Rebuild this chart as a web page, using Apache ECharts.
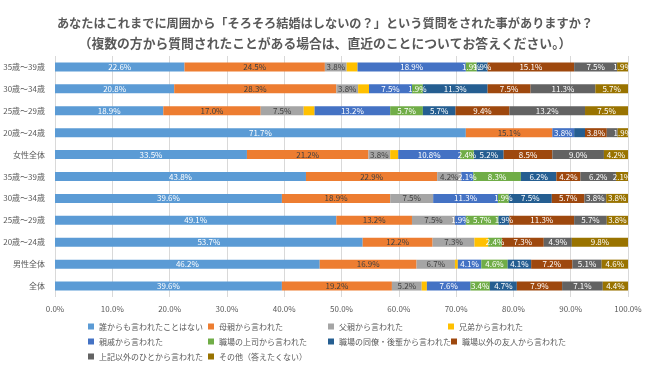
<!DOCTYPE html>
<html><head><meta charset="utf-8">
<script src="https://cdn.jsdelivr.net/npm/echarts@6/dist/echarts.min.js"></script>
<style>html,body{margin:0;padding:0;background:#fff}#c{width:650px;height:367px}</style>
</head><body><div id="c"></div>
<script>
const categories = ['35歳～39歳','30歳～34歳','25歳～29歳','20歳～24歳','女性全体','35歳～39歳','30歳～34歳','25歳～29歳','20歳～24歳','男性全体','全体'];
const seriesNames = ['誰からも言われたことはない','母親から言われた','父親から言われた','兄弟から言われた','親戚から言われた','職場の上司から言われた','職場の同僚・後輩から言われた','職場以外の友人から言われた','上記以外のひとから言われた','その他（答えたくない）'];
const noOne     = [22.6, 20.8, 18.9, 71.7, 33.5, 43.8, 39.6, 49.1, 53.7, 46.2, 39.6];
const mother    = [24.5, 28.3, 17.0, 15.1, 21.2, 22.9, 18.9, 13.2, 12.2, 16.9, 19.2];
const father    = [3.8, 3.8, 7.5, 0, 3.8, 4.2, 7.5, 7.5, 7.3, 6.7, 5.2];
const sibling   = [1.9, 1.9, 1.9, 0, 1.4, 0, 0, 0, 2.4, 0.5, 0.9];
const relative  = [18.9, 7.5, 13.2, 3.8, 10.8, 2.1, 11.3, 1.9, 0, 4.1, 7.6];
const boss      = [1.9, 1.9, 5.7, 0, 2.4, 8.3, 1.9, 5.7, 2.4, 4.6, 3.4];
const colleague = [1.9, 11.3, 5.7, 1.9, 5.2, 6.2, 7.5, 1.9, 0, 4.1, 4.7];
const friend    = [15.1, 7.5, 9.4, 3.8, 8.5, 4.2, 5.7, 11.3, 7.3, 7.2, 7.9];
const others    = [7.5, 11.3, 13.2, 1.9, 9.0, 6.2, 3.8, 5.7, 4.9, 5.1, 7.1];
const noAnswer  = [1.9, 5.7, 7.5, 1.9, 4.2, 2.1, 3.8, 3.8, 9.8, 4.6, 4.4];
const xTicks = ['0.0%','10.0%','20.0%','30.0%','40.0%','50.0%','60.0%','70.0%','80.0%','90.0%','100.0%'];
const allValues = [noOne, mother, father, sibling, relative, boss, colleague, friend, others, noAnswer];
// labels not shown in the reference: [seriesIndex, rowIndex]
const hiddenLabels = [[6,3],[8,3]];

const colors = ['#5B9BD5','#ED7D31','#A5A5A5','#FFC000','#4472C4','#70AD47','#255E91','#9E480E','#636363','#997300'];
const labelColors = ['#FFFFFF','#404040','#404040','#FFFFFF','#FFFFFF','#FFFFFF','#FFFFFF','#FFFFFF','#FFFFFF','#FFFFFF'];
const FONT = '"Noto Sans CJK JP","Noto Sans",sans-serif';

const series = allValues.map((vals, si) => ({
  name: seriesNames[si],
  type: 'bar',
  stack: 'total',
  barWidth: 9,
  itemStyle: { color: colors[si] },
  label: {
    show: si !== 3,
    position: 'inside',
    fontSize: 8,
    fontFamily: FONT,
    color: labelColors[si],
    formatter: p => {
      if (!(p.value > 0)) return '';
      if (hiddenLabels.some(h => h[0] === si && h[1] === p.dataIndex)) return '';
      return p.value.toFixed(1) + '%';
    }
  },
  emphasis: { disabled: true },
  data: vals
}));

const chart = echarts.init(document.getElementById('c'), null, { renderer: 'canvas' });
chart.setOption({
  animation: false,
  textStyle: { fontFamily: FONT },
  title: {
    text: '{a|あなたはこれまでに周囲から「そろそろ結婚はしないの？」という質問をされた事がありますか？}\n{b|（複数の方から質問されたことがある場合は、直近のことについてお答えください。）}',
    left: 'center',
    top: 8,
    textStyle: {
      fontFamily: FONT, align: 'center',
      rich: {
        a: { fontSize: 12.2, fontWeight: 'bold', color: '#595959', lineHeight: 20, fontFamily: FONT, align: 'center' },
        b: { fontSize: 12.8, fontWeight: 'bold', color: '#595959', lineHeight: 20, fontFamily: FONT, align: 'center' }
      }
    }
  },
  legend: {
    data: seriesNames,
    left: 88,
    top: 319,
    width: 520,
    itemWidth: 6,
    itemHeight: 6,
    itemGap: 0,
    icon: 'rect',
    padding: 0,
    textStyle: { fontSize: 8, color: '#595959', width: 109, overflow: 'none', fontFamily: FONT, lineHeight: 15 }
  },
  grid: { left: 55, right: 22, top: 56, bottom: 70, containLabel: false },
  xAxis: {
    type: 'value', min: 0, max: 100, interval: 10,
    axisLine: { show: false }, axisTick: { show: false },
    splitLine: { lineStyle: { color: '#D9D9D9', width: 1 } },
    axisLabel: { fontSize: 8, color: '#595959', margin: 8, formatter: v => xTicks[Math.round(v / 10)] }
  },
  yAxis: {
    type: 'category', inverse: true, data: categories,
    axisLine: { show: false }, axisTick: { show: false },
    axisLabel: { fontSize: 8, color: '#595959', margin: 10 }
  },
  series: series
});
</script></body></html>
